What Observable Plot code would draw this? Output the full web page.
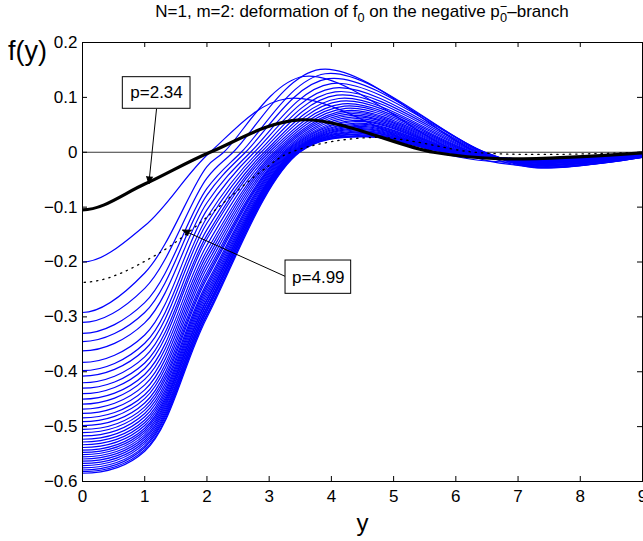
<!DOCTYPE html>
<html>
<head>
<meta charset="utf-8">
<script src="https://cdn.jsdelivr.net/npm/d3@7"></script>
<script src="https://cdn.jsdelivr.net/npm/@observablehq/plot@0.6"></script>
<style>
  html, body { margin: 0; padding: 0; background: white; }
  #wrap { position: relative; width: 643px; height: 541px; overflow: hidden; font-family: "Liberation Sans", Arial, Helvetica, sans-serif; }
  #title { position: absolute; left: 82px; width: 560px; top: 2px; text-align: center; font-size: 17px; line-height: 20px; color: black; white-space: nowrap; }
  #title .sb { font-size: 0.75em; position: relative; top: 0.4em; }
  #title .ss { display: inline-block; white-space: pre; font-size: 0.75em; line-height: 0.85em; vertical-align: -0.4em; }
</style>
</head>
<body>
<div id="wrap">
  <div id="title">N=1, m=2: deformation of f<span class="sb">0</span> on the negative p<span class="ss">−
0</span>–branch</div>
</div>
<script>
// ---- axis ticks ----
const xTicks = [0, 1, 2, 3, 4, 5, 6, 7, 8, 9];
const yTicks = [0.2, 0.1, 0, -0.1, -0.2, -0.3, -0.4, -0.5, -0.6];

// ---- blue family: key values ----
// value at y=0, at y=1, at y=2, first zero, peak position, peak value,
// second zero, trough position, trough value, value at y=9
const blueF0 = [-0.200,-0.292,-0.310,-0.330,-0.345,-0.362,-0.383,-0.398,-0.408,-0.420,-0.430,-0.440,-0.450,-0.459,-0.468,-0.476,-0.484,-0.491,-0.498,-0.505,-0.511,-0.517,-0.523,-0.528,-0.533,-0.538,-0.543,-0.547,-0.551,-0.555,-0.559,-0.563,-0.567,-0.571,-0.575,-0.579,-0.582,-0.585];
const blueF1 = [-0.134,-0.220,-0.248,-0.274,-0.292,-0.311,-0.333,-0.348,-0.360,-0.373,-0.384,-0.394,-0.405,-0.414,-0.424,-0.433,-0.442,-0.449,-0.457,-0.464,-0.470,-0.476,-0.482,-0.488,-0.493,-0.498,-0.503,-0.507,-0.511,-0.515,-0.519,-0.523,-0.527,-0.531,-0.535,-0.538,-0.542,-0.545];
const blueF2 = [null,-0.026,-0.047,-0.066,-0.078,-0.092,-0.105,-0.119,-0.129,-0.141,-0.151,-0.158,-0.169,-0.179,-0.187,-0.195,-0.203,-0.211,-0.219,-0.225,-0.230,-0.238,-0.243,-0.248,-0.253,-0.258,-0.263,-0.268,-0.270,-0.275,-0.277,-0.282,-0.284,-0.288,-0.290,-0.295,-0.297,-0.301];
const blueZero1 = [2.05,2.27,2.42,2.55,2.62,2.70,2.76,2.82,2.87,2.92,2.96,3.00,3.04,3.08,3.11,3.14,3.17,3.20,3.23,3.25,3.27,3.29,3.31,3.33,3.35,3.37,3.38,3.39,3.40,3.41,3.42,3.43,3.44,3.45,3.46,3.47,3.48,3.49];
const bluePeakAt = [3.30,3.55,3.82,3.90,3.95,4.00,4.03,4.06,4.09,4.12,4.15,4.18,4.21,4.23,4.25,4.27,4.29,4.31,4.33,4.35,4.37,4.38,4.39,4.40,4.41,4.42,4.43,4.44,4.45,4.46,4.47,4.48,4.49,4.50,4.51,4.52,4.53,4.54];
const bluePeak = [0.098,0.138,0.151,0.143,0.134,0.125,0.117,0.110,0.104,0.098,0.093,0.088,0.084,0.080,0.076,0.073,0.070,0.067,0.064,0.061,0.058,0.056,0.053,0.051,0.049,0.047,0.045,0.043,0.041,0.039,0.037,0.036,0.034,0.033,0.031,0.030,0.029,0.028];
const blueZero2 = [5.70,6.05,6.35,6.45,6.47,6.47,6.45,6.43,6.40,6.37,6.34,6.31,6.28,6.25,6.22,6.19,6.16,6.13,6.10,6.08,6.06,6.04,6.02,6.00,5.98,5.96,5.95,5.94,5.93,5.92,5.91,5.90,5.89,5.88,5.87,5.86,5.85,5.84];
const blueTroughAt = [6.80,7.05,7.25,7.30,7.30,7.30,7.30,7.28,7.27,7.26,7.25,7.24,7.22,7.20,7.18,7.16,7.14,7.12,7.10,7.08,7.06,7.05,7.04,7.03,7.02,7.01,7.00,7.00,7.00,7.00,7.00,7.00,7.00,7.00,7.00,7.00,7.00,7.00];
const blueTrough = [-0.018,-0.024,-0.028,-0.028,-0.027,-0.026,-0.025,-0.024,-0.023,-0.022,-0.021,-0.020,-0.019,-0.018,-0.018,-0.017,-0.017,-0.016,-0.016,-0.015,-0.015,-0.015,-0.014,-0.014,-0.014,-0.013,-0.013,-0.013,-0.013,-0.013,-0.013,-0.012,-0.012,-0.012,-0.012,-0.012,-0.012,-0.012];
const blueEnd = [-0.004,-0.007,-0.009,-0.009,-0.009,-0.009,-0.009,-0.008,-0.008,-0.008,-0.008,-0.008,-0.008,-0.007,-0.007,-0.007,-0.007,-0.007,-0.007,-0.007,-0.007,-0.006,-0.006,-0.006,-0.006,-0.006,-0.006,-0.006,-0.006,-0.006,-0.006,-0.005,-0.005,-0.005,-0.005,-0.005,-0.005,-0.005];

const blackY = [-1, 0, 1, 2.05, 3.5, 5.64, 6.75, 9];
const blackF = [-0.058, -0.105, -0.058, 0, 0.059, 0, -0.012, -0.001];
const dotY = [-1.2, 0, 1.2, 2.86, 3.35, 4.7, 6.3, 7.4, 9];
const dotF = [-0.186, -0.237, -0.186, -0.036, 0, 0.027, 0, -0.004, 0];

// ---- annotations ----
const annotLabel = ["p=2.34", "p=4.99"];
const annotX = [1.19, 3.79];
const annotY = [0.108, -0.2277];
const boxX1 = [0.648, 3.263], boxX2 = [1.736, 4.318];
const boxY1 = [0.0792, -0.258], boxY2 = [0.1368, -0.1973];
const arrowX1 = [1.19, 3.263], arrowY1 = [0.0792, -0.2264];
const arrowX2 = [1.066, 1.607], arrowY2 = [-0.0575, -0.1417];

// ---- build tables ----
const blue = [];
blueF0.forEach((f0, i) => {
  const pts = [[-1, blueF1[i]], [0, f0], [1, blueF1[i]]];
  if (blueF2[i] !== null) pts.push([2, blueF2[i]]);
  pts.push([blueZero1[i], 0], [bluePeakAt[i], bluePeak[i]], [blueZero2[i], 0],
           [blueTroughAt[i], blueTrough[i]], [9, blueEnd[i]]);
  pts.forEach(([x, y]) => blue.push({id: i, x, y}));
});
const black = blackY.map((x, i) => ({x, y: blackF[i]}));
const dotted = dotY.map((x, i) => ({x, y: dotF[i]}));
const annots = annotLabel.map((t, i) => ({
  t, x: annotX[i], y: annotY[i],
  bx1: boxX1[i], bx2: boxX2[i], by1: boxY1[i], by2: boxY2[i],
  ax1: arrowX1[i], ay1: arrowY1[i], ax2: arrowX2[i], ay2: arrowY2[i]
}));

const W = 643, H = 541, mt = 42, mb = 60, ml = 82, mr = 1;
const fw = W - ml - mr, fh = H - mt - mb, tk = 5;
const fmt = d => (d === 0 ? "0" : String(d).replace("-", "\u2212"));

const chart = Plot.plot({
  width: W, height: H,
  marginTop: mt, marginBottom: mb, marginLeft: ml, marginRight: mr,
  x: {domain: [0, 9], label: null},
  y: {domain: [-0.6, 0.2], label: null},
  style: {fontFamily: "'Liberation Sans', Arial, Helvetica, sans-serif", fontSize: "17px", color: "black", background: "transparent", overflow: "visible"},
  marks: [
    Plot.ruleY([0], {stroke: "#3a3a3a", strokeWidth: 1}),
    Plot.line(blue, {x: "x", y: "y", z: "id", stroke: "#0000ff", strokeWidth: 1.2, curve: "catmull-rom", clip: true}),
    Plot.line(dotted, {x: "x", y: "y", stroke: "black", strokeWidth: 1.3, strokeDasharray: "1.3,5", curve: "catmull-rom", clip: true}),
    Plot.line(black, {x: "x", y: "y", stroke: "black", strokeWidth: 3.2, curve: "catmull-rom", clip: true}),
    Plot.tickX(xTicks, {x: d => d, insetTop: fh - tk, stroke: "black"}),
    Plot.tickX(xTicks, {x: d => d, insetBottom: fh - tk, stroke: "black"}),
    Plot.tickY(yTicks, {y: d => d, insetRight: fw - tk, stroke: "black"}),
    Plot.tickY(yTicks, {y: d => d, insetLeft: fw - tk, stroke: "black"}),
    Plot.frame({stroke: "black", strokeWidth: 1}),
    Plot.axisX(xTicks, {tickSize: 0, tickPadding: 8, tickFormat: d => String(d), fontSize: 17, label: null}),
    Plot.axisY(yTicks, {tickSize: 0, tickPadding: 5, tickFormat: fmt, fontSize: 17, label: null}),
    Plot.arrow(annots, {x1: "ax1", y1: "ay1", x2: "ax2", y2: "ay2", stroke: "black", strokeWidth: 1, headLength: 12, headAngle: 45, bend: 0, strokeLinecap: "butt", strokeLinejoin: "miter"}),
    Plot.rect(annots, {x1: "bx1", x2: "bx2", y1: "by1", y2: "by2", fill: "white", stroke: "black", strokeWidth: 1}),
    Plot.text(annots, {x: "x", y: "y", text: "t", fontSize: 17, textAnchor: "middle", lineAnchor: "middle", fill: "black"}),
    Plot.text(["f(y)"], {text: d => d, frameAnchor: "top-left", dx: -55, dy: 17, fontSize: 27, textAnchor: "middle", lineAnchor: "bottom", fill: "black"}),
    Plot.text(["y"], {text: d => d, frameAnchor: "bottom", dy: 49, fontSize: 24, textAnchor: "middle", lineAnchor: "bottom", fill: "black"})
  ]
});
chart.querySelectorAll('g[aria-label="arrow"] path').forEach(p => p.setAttribute("fill", "black"));
chart.style.position = "absolute";
chart.style.left = "0px";
chart.style.top = "0px";
const wrap = document.getElementById("wrap");
wrap.insertBefore(chart, wrap.firstChild);
</script>
</body>
</html>
